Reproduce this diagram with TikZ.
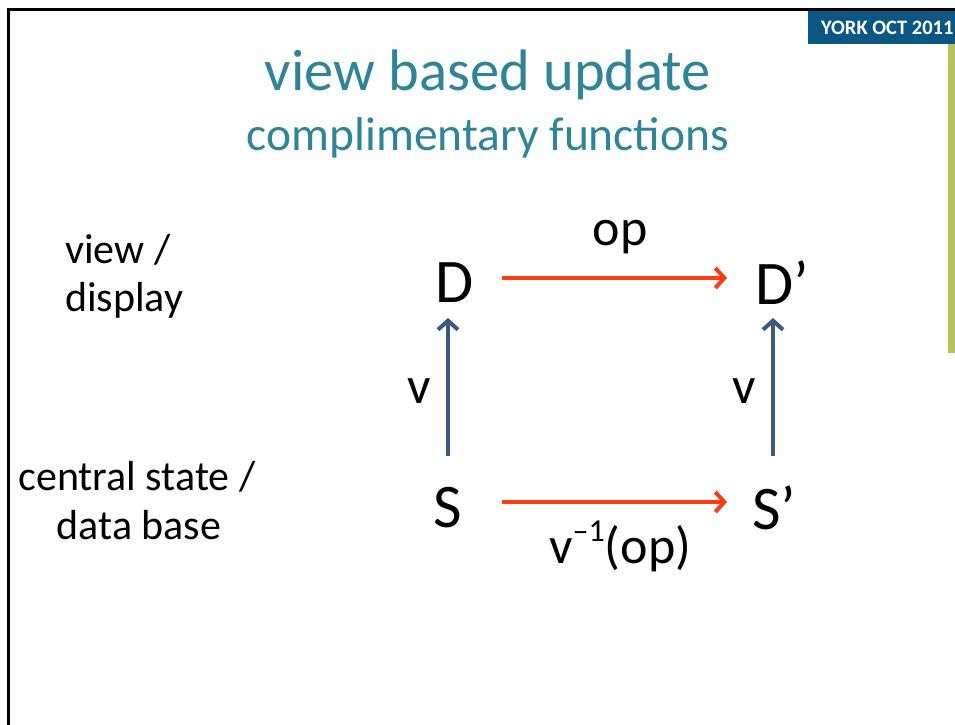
\documentclass[tikz,border=0pt]{standalone}
\usepackage{fontspec}
\setmainfont{Carlito}
\usetikzlibrary{arrows.meta}
\definecolor{titleteal}{HTML}{2F8597}
\definecolor{hdrblue}{HTML}{0B5783}
\definecolor{barGreen}{HTML}{B5C25E}
\definecolor{arrRed}{HTML}{FF3B10}
\definecolor{arrBlue}{HTML}{3C5A7E}
\begin{document}
\begin{tikzpicture}[x=1pt,y=-1pt,
  lbl/.style={inner sep=0pt,font=\fontsize{42}{50}\selectfont},
  albl/.style={inner sep=0pt,font=\fontsize{52}{60}\selectfont},
  sym/.style={inner sep=0pt,font=\fontsize{62}{70}\selectfont},
  redarr/.style={draw=arrRed,line width=4pt,-{Straight Barb[length=9pt,width=20pt,line width=4pt]}},
  bluearr/.style={draw=arrBlue,line width=4pt,-{Straight Barb[length=9pt,width=20pt,line width=4pt]}}]
\useasboundingbox (0,0) rectangle (955,724);
\fill[white] (0,0) rectangle (955,724);
% frame
\draw[line width=3pt] (8,730) -- (8,9) -- (960,9);
% header
\fill[hdrblue] (808,11) rectangle (960,44);
\node[anchor=west,inner sep=0pt,text=white,font=\bfseries\fontsize{20.5}{24}\selectfont] (hdr) at (821,28) {YORK OCT 2011};
\fill[barGreen] (948,44) rectangle (960,353);
% titles
\node[inner sep=0pt,text=titleteal,font=\fontsize{58.5}{62}\selectfont] (title) at (488,75) {view based update};
\node[inner sep=0pt,text=titleteal,font=\fontsize{47.5}{52}\selectfont] (sub) at (488,138) {complimentary functions};
% left labels
\node[lbl,anchor=west] (l1) at (65,250) {view /};
\node[lbl,anchor=west] (l2) at (65,300) {display};
\node[lbl] (l3) at (137,477) {central state /};
\node[lbl] (l4) at (139,525) {data base};
% nodes
\node[sym] (D) at (455,283) {D};
\node[sym] (Dp) at (782,283) {D’};
\node[sym] (S) at (448,508) {S};
\node[sym] (Sp) at (774,508) {S’};
% arrows
\draw[redarr] (502,278) -- (727,278);
\draw[redarr] (502,502) -- (727,502);
\draw[bluearr] (448,456) -- (448,318);
\draw[bluearr] (773,456) -- (773,318);
% arrow labels
\node[albl] (op) at (620,237) {op};
\node[albl] (v1) at (419,391) {v};
\node[albl] (v2) at (744,391) {v};
\node[albl,anchor=base west] (inv) at (549,563) {v\raisebox{0.42em}{\fontsize{32}{32}\selectfont –1}(op)};
\end{tikzpicture}
\end{document}
